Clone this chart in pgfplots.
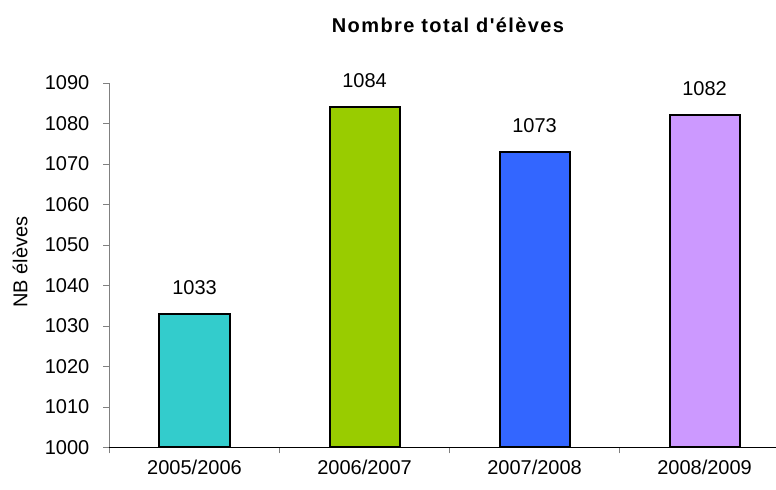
\documentclass[border=0pt]{standalone}
\usepackage{fontspec}
\setmainfont{Liberation Sans}
\newfontfamily\titlefont[LetterSpace=7]{Liberation Sans}
\usepackage{pgfplots}
\pgfplotsset{compat=1.18}
\definecolor{cteal}{HTML}{33CCCC}
\definecolor{cgreen}{HTML}{99CC00}
\definecolor{cblue}{HTML}{3366FF}
\definecolor{clav}{HTML}{CC99FF}
\definecolor{axgray}{HTML}{808080}
\begin{document}
\begin{tikzpicture}
\path[use as bounding box] (0,0) rectangle (465.6pt,294pt);
\begin{axis}[
  at={(65.7pt,25.5pt)}, anchor=south west,
  scale only axis, width=399.9pt, height=218.7pt,
  xmin=-0.5, xmax=3.42, ymin=1000, ymax=1090,
  ytick={1000,1010,...,1090},
  /pgf/number format/assume math mode=true,
  /pgf/number format/1000 sep={},
  ticklabel style={font=\fontsize{12pt}{14pt}\selectfont},
  axis x line=bottom, axis y line=left,
  axis line style={-},
  y axis line style={draw=axgray},
  x axis line style={draw=black},
  tick align=outside, major tick length=3.6pt,
  ytick style={draw=axgray},
  xtick={-0.5,0.5,1.5,2.5}, xticklabels={},
  xtick style={draw=axgray},
  extra x ticks={0,1,2,3},
  extra x tick labels={2005/2006,2006/2007,2007/2008,2008/2009},
  extra x tick style={major tick length=0pt, xticklabel style={yshift=-4pt}},
  yticklabel style={xshift=-5pt},
]
\addplot[fill=cteal, draw=black, line width=1.2pt, line join=miter] table {
x y
-0.206 1000
-0.206 1033
0.206 1033
0.206 1000
} -- cycle;
\addplot[fill=cgreen, draw=black, line width=1.2pt, line join=miter] table {
x y
0.794 1000
0.794 1084
1.206 1084
1.206 1000
} -- cycle;
\addplot[fill=cblue, draw=black, line width=1.2pt, line join=miter] table {
x y
1.794 1000
1.794 1073
2.206 1073
2.206 1000
} -- cycle;
\addplot[fill=clav, draw=black, line width=1.2pt, line join=miter] table {
x y
2.794 1000
2.794 1082
3.206 1082
3.206 1000
} -- cycle;
\addplot[draw=none, mark=none, nodes near coords,
  every node near coord/.append style={font=\fontsize{12pt}{14pt}\selectfont, anchor=south, yshift=8pt}]
  coordinates {(0,1033) (1,1084) (2,1073) (3,1082)};
\end{axis}
\node[font=\titlefont\bfseries\fontsize{12pt}{14pt}\selectfont] at (268.8pt,279pt) {Nombre total d'élèves};
\node[rotate=90, font=\fontsize{12pt}{14pt}\selectfont] at (12pt,136.8pt) {NB élèves};
\end{tikzpicture}
\end{document}
